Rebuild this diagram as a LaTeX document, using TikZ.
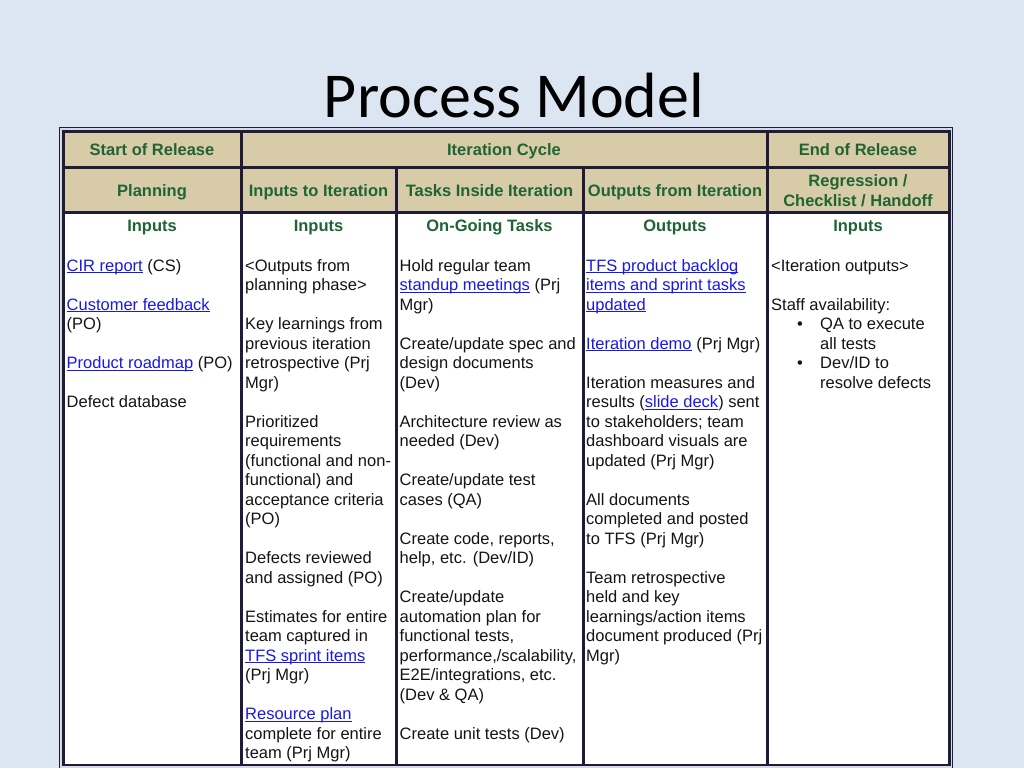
\documentclass[tikz,border=0pt]{standalone}
\usepackage{fontspec}
\setmainfont{Liberation Sans}
\newfontfamily\titlefont{Carlito}
\definecolor{bg}{RGB}{220,230,242}
\definecolor{border}{RGB}{30,28,56}
\definecolor{tan}{RGB}{216,203,168}
\definecolor{hgreen}{RGB}{30,100,52}
\definecolor{lk}{RGB}{25,25,230}
\definecolor{txt}{RGB}{20,20,20}
\definecolor{framegrey}{RGB}{214,218,226}
\newsavebox\lnkbox
\newcommand\lnk[1]{\sbox\lnkbox{#1}\textcolor{lk}{\rlap{\rule[-2.4pt]{\wd\lnkbox}{1.1pt}}#1}}
\begin{document}
\begin{tikzpicture}[x=1pt,y=-1pt,
  body/.style={anchor=base west,inner sep=0pt,font=\fontsize{16.5}{19.5}\selectfont,text=txt},
  hdr/.style={anchor=base,inner sep=0pt,font=\fontsize{16.5}{19.5}\selectfont\bfseries,text=hgreen},
  grid/.style={draw=border,line width=3pt}]
\useasboundingbox (0,0) rectangle (1024,768);
\fill[bg] (0,0) rectangle (1024,768);
% title
\node[anchor=base,inner sep=0pt,font=\titlefont\fontsize{64}{70}\selectfont,text=black] (title) at (514,117) {Process Model};
% frame
\fill[framegrey] (59.5,127.5) rectangle (952,768);
\draw[border,line width=1pt] (59.5,768) -- (59.5,127.5) -- (952,127.5) -- (952,768);
\fill[tan] (63,131) rectangle (949,212);
\fill[white] (63,212) rectangle (949,765);
% grid
\draw[grid] (61.5,131.5) -- (950.5,131.5);
\draw[grid] (61.5,167) -- (950.5,167);
\draw[grid] (61.5,212) -- (950.5,212);
\draw[border,line width=2pt] (61.5,765) -- (950.5,765);
\foreach \xx in {63,241,767,949} \draw[grid] (\xx,130) -- (\xx,766);
\foreach \xx in {396,583} \draw[grid] (\xx,167) -- (\xx,766);
% headers row 1
\node[hdr] (h11) at (152,155.7) {Start of Release};
\node[hdr] (h12) at (504,155.7) {Iteration Cycle};
\node[hdr] (h13) at (858,155.7) {End of Release};
% headers row 2
\node[hdr] (h21) at (152,196) {Planning};
\node[hdr] (h22) at (318.5,196) {Inputs to Iteration};
\node[hdr] (h23) at (489.5,196) {Tasks Inside Iteration};
\node[hdr] (h24) at (675,196) {Outputs from Iteration};
\node[hdr] (h25a) at (858,186) {Regression /};
\node[hdr] (h25b) at (858,206) {Checklist / Handoff};
% headers row 3
\node[hdr] (h31) at (152,231) {Inputs};
\node[hdr] (h32) at (318.5,231) {Inputs};
\node[hdr] (h33) at (489.5,231) {On-Going Tasks};
\node[hdr] (h34) at (675,231) {Outputs};
\node[hdr] (h35) at (858,231) {Inputs};
% column 1
\foreach \t [count=\i from 0] in {{\lnk{CIR report} (CS)},{},{\lnk{Customer feedback}},{(PO)},{},{\lnk{Product roadmap} (PO)},{},{Defect database}}
  \node[body] (ca\i) at (66.5,271+19.5*\i) {\t};
% column 2
\foreach \t [count=\i from 0] in {{<Outputs from},{planning phase>},{},{Key learnings from},{previous iteration},{retrospective (Prj},{Mgr)},{},{Prioritized},{requirements},{(functional and non-},{functional) and},{acceptance criteria},{(PO)},{},{Defects reviewed},{and assigned (PO)},{},{Estimates for entire},{team captured in},{\lnk{TFS sprint items}},{(Prj Mgr)},{},{\lnk{Resource plan}},{complete for entire},{team (Prj Mgr)}}
  \node[body] (cb\i) at (245,271+19.5*\i) {\t};
% column 3
\foreach \t [count=\i from 0] in {{Hold regular team},{\lnk{standup meetings} (Prj},{Mgr)},{},{Create/update spec and},{design documents},{(Dev)},{},{Architecture review as},{needed (Dev)},{},{Create/update test},{cases (QA)},{},{Create code, reports,},{help, etc. (Dev/ID)},{},{Create/update},{automation plan for},{functional tests,},{performance,/scalability,},{E2E/integrations, etc.},{(Dev \& QA)},{},{Create unit tests (Dev)}}
  \node[body] (cc\i) at (399.5,271+19.5*\i) {\t};
% column 4
\foreach \t [count=\i from 0] in {{\lnk{TFS product backlog}},{\lnk{items and sprint tasks}},{\lnk{updated}},{},{\lnk{Iteration demo} (Prj Mgr)},{},{Iteration measures and},{results (\lnk{slide deck}) sent},{to stakeholders; team},{dashboard visuals are},{updated (Prj Mgr)},{},{All documents},{completed and posted},{to TFS (Prj Mgr)},{},{Team retrospective},{held and key},{learnings/action items},{document produced (Prj},{Mgr)}}
  \node[body] (cd\i) at (586,271+19.5*\i) {\t};
% column 5
\node[body] (ce0) at (771,271) {<Iteration outputs>};
\node[body] (ce2) at (771,310) {Staff availability:};
\node[body] (bu1) at (797,329.5) {•};
\node[body] (ce3) at (820,329.5) {QA to execute};
\node[body] (ce4) at (820,349) {all tests};
\node[body] (bu2) at (797,368.5) {•};
\node[body] (ce5) at (820,368.5) {Dev/ID to};
\node[body] (ce6) at (820,388) {resolve defects};
\end{tikzpicture}
\end{document}
